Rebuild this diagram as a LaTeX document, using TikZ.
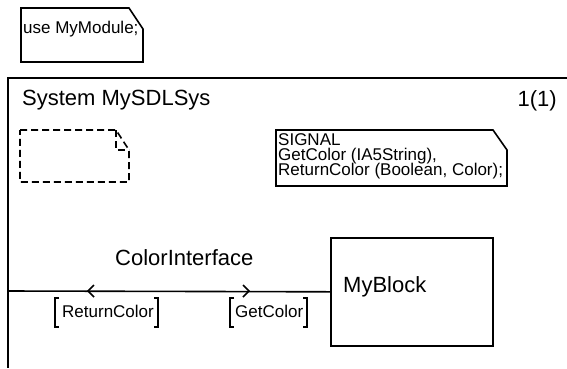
\documentclass[tikz,border=0pt]{standalone}
\usepackage{fontspec}
\setmainfont{Liberation Sans}
\usetikzlibrary{positioning}

\tikzset{
  sdl/.style={line width=1.6pt, line join=miter},
  bigtext/.style={font=\fontsize{22}{26}\selectfont, inner sep=0pt, anchor=base west},
  smalltext/.style={font=\fontsize{17}{15}\selectfont, inner sep=0pt, anchor=base west},
}

\begin{document}
\begin{tikzpicture}[x=1pt,y=-1pt]
  \useasboundingbox (0,0) rectangle (567,368);
  % package reference note
  \draw[sdl] (21,8) -- (129,8) -- (143,29) -- (143,62) -- (21,62) -- cycle;
  \node[smalltext] (usenote) at (23,33) {use MyModule;};
  % system frame
  \draw[sdl, line width=2pt] (567,78) -- (8,78) -- (8,368);
  \node[bigtext] (sysname) at (22,105) {System MySDLSys};
  \node[bigtext, anchor=base east] (pagenr) at (557,106) {1(1)};
  % empty text symbol
  \draw[sdl, dash pattern=on 7pt off 4pt] (20,130) -- (116,130) -- (129,150) -- (129,182) -- (20,182) -- cycle;
  \draw[sdl, dash pattern=on 7pt off 4pt] (116,130) -- (116,150) -- (129,150);
  % signal declarations
  \draw[sdl] (276,130) -- (493,130) -- (507,150) -- (507,186) -- (276,186) -- cycle;
  \node[smalltext] (sigkey) at (278,145) {SIGNAL};
  \node[smalltext] (sigget) at (278,160) {GetColor (IA5String),};
  \node[smalltext] (sigret) at (278,175) {ReturnColor (Boolean, Color);};
  % block
  \node[sdl, draw, anchor=north west, minimum width=162pt, minimum height=108pt, inner sep=0pt] (myblock) at (330,237) {};
  \node[bigtext] (blockname) at (343,292) {MyBlock};
  % channel
  \coordinate (envleft) at (8,291);
  \draw[sdl] (envleft) -- (myblock.west);
  \node[bigtext] (chname) at (115,265) {ColorInterface};
  \draw[sdl] (94,285) -- (88,291) -- (94,297);
  \draw[sdl] (243,285) -- (249,291) -- (243,297);
  % signal lists
  \node[smalltext] (retlist) at (62,317) {ReturnColor};
  \draw[sdl] (59,298) -- (55,298) -- (55,327) -- (59,327);
  \draw[sdl] (154,298) -- (158,298) -- (158,327) -- (154,327);
  \node[smalltext] (getlist) at (235,317) {GetColor};
  \draw[sdl] (234,298) -- (230,298) -- (230,327) -- (234,327);
  \draw[sdl] (303,298) -- (307,298) -- (307,327) -- (303,327);
\end{tikzpicture}
\end{document}
